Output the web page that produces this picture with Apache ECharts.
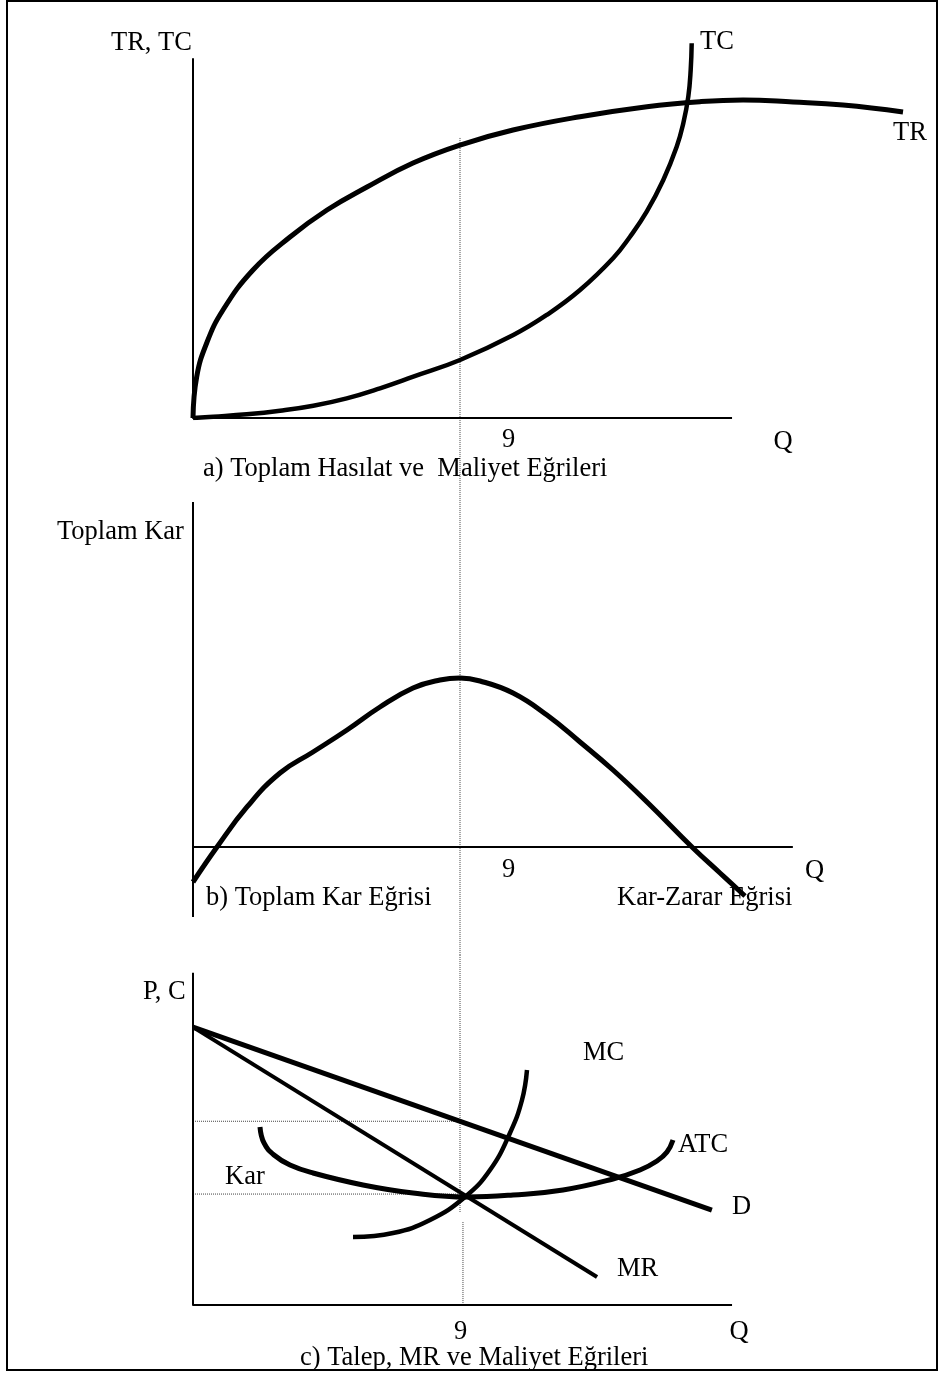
<!DOCTYPE html>
<html>
<head>
<meta charset="utf-8">
<title>Toplam Hasılat, Kar ve Maliyet Eğrileri</title>
<script src="https://cdn.jsdelivr.net/npm/echarts@6/dist/echarts.min.js"></script>
<style>
  html, body { margin: 0; padding: 0; background: #fff; }
  #chart { width: 940px; height: 1373px; }
</style>
</head>
<body>
<div id="chart"></div>
<script>
// ---- Quantity marker (profit-maximising output) ----
const qMark = 9;
const qTickLabels = ['9'];

// ---- a) Total revenue and total cost, [Q, value] ----
const totalRevenue = [
  [0, 0], [0.125, 10.87], [0.462, 19.74], [1.011, 28.42], [2.022, 38.95],
  [3.27, 47.63], [4.517, 54.74], [5.865, 60.79], [7.416, 67.11], [9.0, 71.84],
  [10.787, 75.79], [13.045, 79.29], [15.30, 81.92], [17.09, 83.24], [18.54, 83.68],
  [20.225, 83.16], [21.91, 82.37], [23.933, 80.53]
];
const totalCost = [
  [0, 0], [0.684, 0.34], [1.81, 0.97], [2.933, 1.92], [4.055, 3.24], [5.181, 5.18],
  [6.303, 7.82], [7.426, 10.87], [9.0, 15.26], [10.797, 21.84], [11.922, 27.11],
  [13.045, 33.68], [14.167, 42.11], [14.73, 47.71], [15.293, 54.29], [15.852, 62.63],
  [16.304, 71.39], [16.527, 77.55], [16.695, 84.55], [16.776, 91.58], [16.81, 98.61]
];

// ---- b) Total profit, [Q, value] ----
const totalProfit = [
  [0, -10], [0.809, 0], [1.82, 11.43], [2.933, 21.14], [4.045, 27.14], [5.191, 33.43],
  [6.303, 40.0], [7.416, 45.43], [8.326, 47.71], [9.0, 48.29], [9.674, 47.43],
  [10.787, 44.0], [11.93, 37.71], [13.045, 30.0], [14.157, 22.0], [15.337, 12.57],
  [16.854, -0.29], [17.764, -7.43], [18.607, -14.0]
];

// ---- c) Demand, marginal revenue and cost curves, [Q, value] ----
const demand = [[0, 79.4], [17.49, 27.1]];
const marginalRevenue = [[0, 79.4], [13.62, 8.0]];
const averageTotalCost = [
  [2.258, 50.86], [2.393, 46.29], [2.73, 42.86], [3.27, 40.0], [4.045, 37.71],
  [5.73, 34.29], [7.416, 32.0], [9.236, 30.86], [10.787, 31.43], [12.472, 32.86],
  [14.157, 36.0], [15.067, 38.57], [15.64, 41.14], [15.977, 43.71], [16.18, 47.14]
];
const marginalCost = [
  [5.393, 19.43], [6.742, 20.57], [7.989, 24.29], [9.169, 30.86], [10.011, 38.57],
  [10.685, 49.14], [11.09, 58.57], [11.258, 67.14]
];
// price at qMark on the demand curve, and minimum average cost
const priceLevels = [52.5, 31.7];

// ---- Axis extents, [Q, value] ----
const axesA = [[0, 94.7], [0, 0], [18.17, 0]];
const axisBY = [[0, 98.6], [0, -20]];
const axisBX = [[0, 0], [20.22, 0]];
const axesC = [[0, 94.9], [0, 0], [18.17, 0]];
// vertical guide through qMark: from panel a down to the top of panel c,
// then inside panel c (with a short break under the curve crossing)
const guideUpper = [[qMark, 73.7], [qMark, -141.3]];
const guideLowerA = [[qMark, 100], [qMark, 26.6]];
const guideLowerB = [[9.1, 23.7], [9.1, 0]];

const FONT = '26.5px "Liberation Serif", "Times New Roman", serif';
const chart = echarts.init(document.getElementById('chart'), null, { renderer: 'canvas' });

const gridLeft = 193;
const gridWidth = 267 / 9 * 25;

function line(data, grid, width, opts) {
  return Object.assign({
    type: 'line',
    xAxisIndex: grid,
    yAxisIndex: grid,
    data: data,
    symbol: 'none',
    silent: true,
    animation: false,
    lineStyle: { color: '#000', width: width, cap: 'butt', join: 'round' },
    z: 3
  }, opts || {});
}
function curve(data, grid, width) {
  return line(data, grid, width, { smooth: 0.45 });
}
function dotted(data, grid, opts) {
  return line(data, grid, 1, Object.assign({
    lineStyle: { color: '#444', width: 1, type: [1, 1] },
    z: 1
  }, opts || {}));
}

const xAxisBase = { type: 'value', min: 0, max: 25, show: false };

chart.setOption({
  backgroundColor: '#fff',
  animation: false,
  grid: [
    { left: gridLeft, top: 38, width: gridWidth, height: 380, outerBoundsMode: 'none' },
    { left: gridLeft, top: 497, width: gridWidth, height: 420, outerBoundsMode: 'none' },
    { left: gridLeft, top: 955, width: gridWidth, height: 350, outerBoundsMode: 'none' }
  ],
  xAxis: [
    Object.assign({ gridIndex: 0 }, xAxisBase),
    Object.assign({ gridIndex: 1 }, xAxisBase),
    Object.assign({ gridIndex: 2 }, xAxisBase)
  ],
  yAxis: [
    { gridIndex: 0, type: 'value', min: 0, max: 100, show: false },
    { gridIndex: 1, type: 'value', min: -20, max: 100, show: false },
    { gridIndex: 2, type: 'value', min: 0, max: 100, show: false }
  ],
  series: [
    // guide lines
    dotted(guideUpper, 0, { clip: false }),
    dotted(guideLowerA, 2),
    dotted(guideLowerB, 2),
    dotted([[0, priceLevels[0]], [qMark, priceLevels[0]]], 2),
    dotted([[0, priceLevels[1]], [qMark, priceLevels[1]]], 2),
    // axes
    line(axesA, 0, 2),
    line(axisBY, 1, 2),
    line(axisBX, 1, 2),
    line(axesC, 2, 2),
    // a)
    curve(totalRevenue, 0, 5),
    curve(totalCost, 0, 4.5),
    // b)
    curve(totalProfit, 1, 5),
    // c)
    line(demand, 2, 5),
    line(marginalRevenue, 2, 4),
    curve(averageTotalCost, 2, 5),
    curve(marginalCost, 2, 4.5)
  ]
});

// Text is placed by its baseline; zrender centres text vertically on y.
function label(text, x, baseline, align) {
  return {
    type: 'text',
    silent: true,
    z: 10,
    style: {
      text: text,
      x: x,
      y: baseline - 7.5,
      font: FONT,
      fill: '#000',
      align: align || 'left',
      verticalAlign: 'middle'
    }
  };
}

// tick label for qMark in each panel, offset along the axis
const tickOffsets = [48.5, 48.5, 0.5];
const tickBaselines = [448, 878, 1340];
const tickTexts = tickOffsets.map(function (dx, i) {
  const p = chart.convertToPixel({ gridIndex: i }, [qMark, 0]);
  return label(qTickLabels[0], p[0] + dx, tickBaselines[i], 'center');
});

chart.setOption({
  graphic: [
    {
      type: 'rect',
      silent: true,
      z: 0,
      shape: { x: 7, y: 1, width: 930, height: 1369 },
      style: { fill: 'none', stroke: '#000', lineWidth: 2 }
    },
    // a)
    label('TR, TC', 111, 51),
    label('TC', 700, 50),
    label('TR', 893, 141),
    label('Q', 783, 450, 'center'),
    label('a) Toplam Hasılat ve  Maliyet Eğrileri', 203, 477),
    // b)
    label('Toplam Kar', 57, 540),
    label('Q', 814.5, 879, 'center'),
    label('b) Toplam Kar Eğrisi', 206, 906),
    label('Kar-Zarar Eğrisi', 617, 906),
    // c)
    label('P, C', 143, 1000),
    label('MC', 583, 1061),
    label('ATC', 678, 1153),
    label('D', 732, 1215),
    label('Kar', 225, 1185),
    label('MR', 617, 1277),
    label('Q', 739, 1340, 'center'),
    label('c) Talep, MR ve Maliyet Eğrileri', 300, 1366)
  ].concat(tickTexts)
});
</script>
</body>
</html>
